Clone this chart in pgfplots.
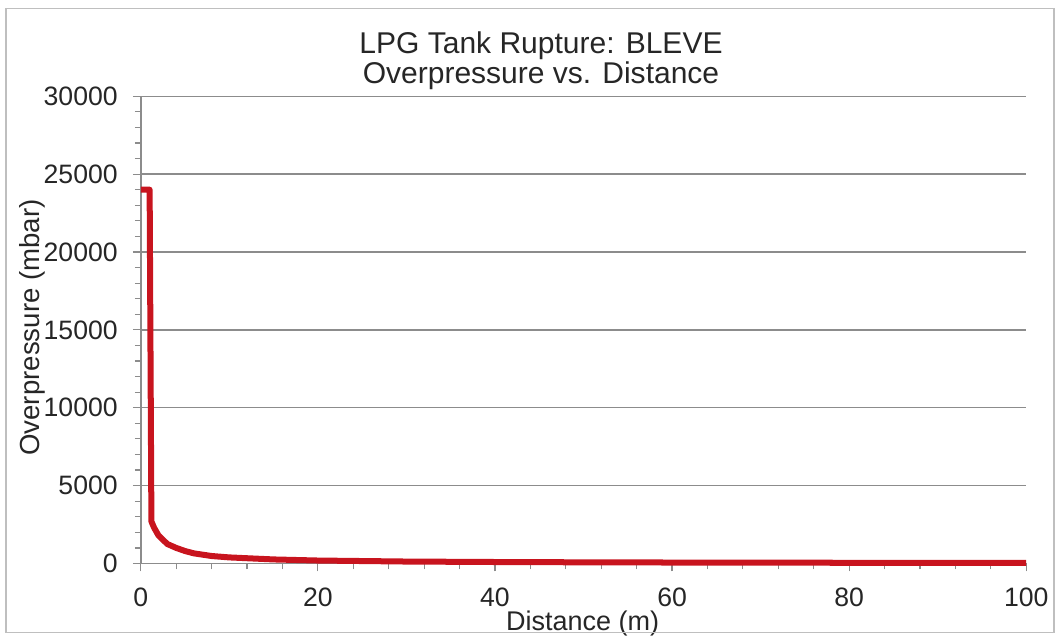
\documentclass[border=0pt]{standalone}
\usepackage{pgfplots}
\pgfplotsset{compat=1.18}
\usepackage{fontspec}
\setmainfont{Liberation Sans}
\definecolor{curve}{HTML}{C8141E}
\definecolor{gridc}{HTML}{8C8C8C}
\begin{document}
\begin{tikzpicture}
\begin{axis}[
  scale only axis,
  width=442.5pt, height=233.5pt,
  xmin=0, xmax=100, ymin=0, ymax=30000,
  axis x line=bottom, axis y line=left,
  axis line style={-, draw=gridc, line width=0.8pt},
  xtick={0,20,...,100}, ytick={0,5000,...,30000},
  minor x tick num=4, minor y tick num=4,
  tick align=outside,
  major tick length=4pt, minor tick length=3pt,
  every tick/.style={draw=gridc, line width=0.6pt},
  ymajorgrids, major grid style={draw=gridc, line width=0.7pt},
  scaled y ticks=false,
  /pgf/number format/assume math mode=true,
  yticklabel style={/pgf/number format/1000 sep={}, font=\fontsize{13.3}{15}\selectfont, text=black!85, xshift=-4pt},
  xticklabel style={font=\fontsize{13.3}{15}\selectfont, text=black!85, yshift=-4.5pt},
  clip=false,
]
\addplot[curve, line width=3pt, line join=round] coordinates {
(0,24000) (1.0,24000) (1.2,2700) (1.5,2300) (2,1800) (3,1250) (4,1000) (5,800)
(6,650) (8,480) (10,390) (15,260) (20,190) (30,125) (40,95) (50,75) (60,62)
(70,53) (80,46) (90,41) (100,37)
};
\node[font=\fontsize{15}{15}\selectfont, align=center, text=black!85] at (rel axis cs:0.452,1.077) {LPG Tank Rupture: BLEVE\\Overpressure vs. Distance};
\node[font=\fontsize{13.8}{15}\selectfont, rotate=90, text=black!85] at (rel axis cs:-0.123,0.505) {Overpressure (mbar)};
\node[font=\fontsize{13.5}{15}\selectfont, text=black!85] at (rel axis cs:0.499,-0.128) {Distance (m)};
\draw[black!25, line width=0.8pt] (rel axis cs:-0.152,-0.148) rectangle (rel axis cs:1.031,1.188);
\path (rel axis cs:-0.159,-0.161) rectangle (rel axis cs:1.037,1.206);
\end{axis}
\end{tikzpicture}
\end{document}
